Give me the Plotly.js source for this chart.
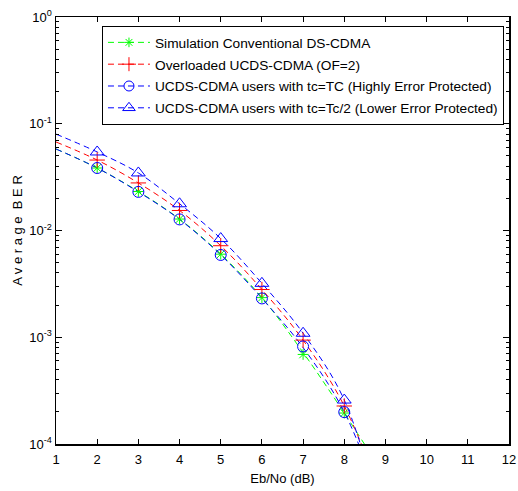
<!DOCTYPE html>
<html>
<head>
<meta charset="utf-8">
<script src="https://cdn.plot.ly/plotly-3.0.1.min.js"></script>
<style>html,body{margin:0;padding:0;background:#fff;}#chart{width:518px;height:491px;}</style>
</head>
<body>
<div id="chart"></div>
<script>
// Marker data (Eb/No in dB)
const markerX = [2, 3, 4, 5, 6, 7, 8];
const berConventional = [0.0385, 0.0232, 0.0128, 0.0060, 0.00235, 0.00069, 0.000195];
const berOverloaded   = [0.0457, 0.0279, 0.0154, 0.0072, 0.0028, 0.00094, 0.000227];
const berHighProt     = [0.0385, 0.0230, 0.0127, 0.0059, 0.00231, 0.00082, 0.000199];
const berLowProt      = [0.0544, 0.0346, 0.0178, 0.0084, 0.0032, 0.00109, 0.000258];

// Fitted dashed curves (x = 1 ... 9)
const curveX = [1, 2, 3, 4, 5, 6, 7, 8, 9];
const curveConventional = [0.058, 0.0385, 0.0232, 0.0128, 0.0060, 0.00235, 0.00072, 0.000195, 0.000049];
const curveOverloaded   = [0.0675, 0.0457, 0.0279, 0.0154, 0.0072, 0.0028, 0.00094, 0.000227, 0.000026];
const curveHighProt     = [0.058, 0.0385, 0.0230, 0.0127, 0.0059, 0.00231, 0.00080, 0.000199, 0.000021];
const curveLowProt      = [0.080, 0.0544, 0.0346, 0.0178, 0.0084, 0.0032, 0.00109, 0.000258, 0.0000145];

const seriesNames = [
  'Simulation Conventional DS-CDMA',
  'Overloaded UCDS-CDMA (OF=2)',
  'UCDS-CDMA users with tc=TC (Highly Error Protected)',
  'UCDS-CDMA users with tc=Tc/2 (Lower Error Protected)'
];
const xTickVals = [1,2,3,4,5,6,7,8,9,10,11,12];
const yTickVals = [1e-4, 1e-3, 1e-2, 1e-1, 1];
const yTickText = ['10<sup>-4</sup>','10<sup>-3</sup>','10<sup>-2</sup>','10<sup>-1</sup>','10<sup>0</sup>'];

const colors = ['#00ff00', '#ff0000', '#0000ff', '#0000ff'];
const symbols = ['asterisk-open', 'cross-thin-open', 'circle-open', 'triangle-up-open'];
const sizes = [9, 11, 11, 12];
const markerSets = [berConventional, berOverloaded, berHighProt, berLowProt];
const curveSets = [curveConventional, curveOverloaded, curveHighProt, curveLowProt];

const traces = [];
for (let i = 0; i < 4; i++) {
  traces.push({
    x: curveX, y: curveSets[i], type: 'scatter', mode: 'lines',
    line: {color: colors[i], width: 1, dash: '6px,4px', shape: 'spline'},
    showlegend: false, hoverinfo: 'skip'
  });
}
for (let i = 0; i < 4; i++) {
  traces.push({
    x: markerX, y: markerSets[i], type: 'scatter', mode: 'markers',
    name: seriesNames[i], showlegend: false,
    marker: {symbol: symbols[i], size: sizes[i], color: colors[i], line: {color: colors[i], width: 1}}
  });
}
for (let i = 0; i < 4; i++) {
  traces.push({
    x: [null], y: [null], type: 'scatter', mode: 'lines+markers', name: seriesNames[i],
    legendgroup: 'g' + i,
    line: {color: colors[i], width: 1, dash: '6px,4px'},
    marker: {symbol: symbols[i], size: sizes[i] - 1, color: colors[i], line: {color: colors[i], width: 1}},
    showlegend: true
  });
}

const minorY = [];
for (let e = -4; e < 0; e++) for (let m = 2; m <= 9; m++) minorY.push(m * Math.pow(10, e));

const layout = {
  width: 518, height: 491,
  margin: {l: 56, r: 9, t: 17, b: 47},
  paper_bgcolor: '#fff', plot_bgcolor: '#fff',
  font: {family: 'Liberation Sans, Arial, sans-serif', size: 13, color: '#000'},
  showlegend: true,
  legend: {
    x: 0.1015, y: 0.979, xanchor: 'left', yanchor: 'top',
    bgcolor: '#fff', bordercolor: '#000', borderwidth: 1,
    font: {size: 13.7, color: '#000'}, tracegroupgap: 1, itemwidth: 42
  },
  xaxis: {
    type: 'linear', range: [1, 12], tickmode: 'array', tickvals: xTickVals,
    ticks: 'inside', ticklen: 5, tickcolor: '#000', tickwidth: 1,
    showline: true, linecolor: '#000', linewidth: 1.5, mirror: 'ticks',
    showgrid: false, zeroline: false, ticklabelstandoff: 3,
    tickfont: {size: 13},
    title: {text: 'Eb/No (dB)', font: {size: 13}, standoff: 8}
  },
  yaxis: {
    type: 'log', range: [-4, 0], tickmode: 'array', tickvals: yTickVals, ticktext: yTickText,
    ticks: 'inside', ticklen: 6, tickcolor: '#000', tickwidth: 1,
    showline: true, linecolor: '#000', linewidth: 1.5, mirror: 'ticks',
    showgrid: false, zeroline: false,
    tickfont: {size: 13},
    minor: {tickmode: 'array', tickvals: minorY, ticks: 'inside', ticklen: 3, tickcolor: '#000', tickwidth: 1, showgrid: false},
    title: {text: 'A v e r a g e  B E R', font: {size: 13}, standoff: 4}
  }
};

Plotly.newPlot('chart', traces, layout, {displayModeBar: false, staticPlot: true});
</script>
</body>
</html>
